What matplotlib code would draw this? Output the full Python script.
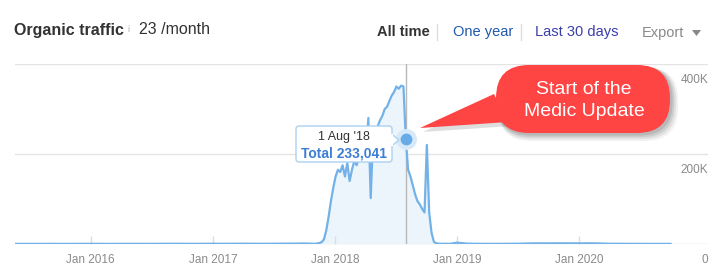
import matplotlib
matplotlib.use("Agg")
import matplotlib.pyplot as plt
import matplotlib.dates as mdates
from matplotlib.patches import FancyBboxPatch, Polygon
from matplotlib.transforms import blended_transform_factory
import pandas as pd
import numpy as np

plt.rcParams['font.family'] = ['Liberation Sans', 'DejaVu Sans']

# ---------------- data (values in thousands of visits) ----------------
pre_start = "2015-05-01"
pre_values = [0.2, 0.3, 0.3, 0.2, 0.4, 0.3, 0.3, 0.4, 0.5, 0.4, 0.3, 0.4,
              0.5, 0.4, 0.4, 0.5, 0.6, 0.5, 0.4, 0.5, 0.6, 0.5, 0.6, 0.7,
              0.6, 0.5, 0.6, 0.8, 0.9, 1.2]
peak_start = "2017-11-01"
peak_values = [0.5, 1, 2, 4, 10, 30, 60, 95, 125, 150, 165, 160, 175, 150,
               180, 140, 165, 185, 175, 195, 190, 200, 205, 280, 102, 235,
               245, 262, 275, 285, 300, 305, 318, 330, 338, 350, 345, 352,
               350, 233.041, 165, 150, 130, 110, 95, 88, 78, 70, 220, 70,
               25, 5, 1.5, 0.8, 0.6, 0.5, 0.5, 0.4, 0.4]
post_start = "2019-01-01"
post_values = [3.0, 0.8, 0.5, 0.4, 0.4, 0.5, 0.6, 1.2, 1.5, 1.4, 1.6, 1.5,
               1.4, 1.6, 1.2, 0.6, 0.5, 0.4, 0.4, 0.3, 0.3, 0.3]

marker_date = "2018-08-01"
marker_value = 233.041
tooltip_date = "1 Aug '18"
tooltip_total = "Total 233,041"

x_ticks = ["2016-01-01", "2017-01-01", "2018-01-01", "2019-01-01", "2020-01-01"]
x_tick_labels = ["Jan 2016", "Jan 2017", "Jan 2018", "Jan 2019", "Jan 2020"]
y_ticks = [0, 200, 400]
y_tick_labels = ["0", "200K", "400K"]

dates = list(pd.date_range(pre_start, periods=len(pre_values), freq="MS")) + \
        list(pd.date_range(peak_start, periods=len(peak_values), freq="W-WED")) + \
        list(pd.date_range(post_start, periods=len(post_values), freq="MS"))
values = pre_values + peak_values + post_values

# ---------------- figure ----------------
W, H = 727, 276
fig = plt.figure(figsize=(W / 100, H / 100), dpi=100)
ax = fig.add_axes([15 / W, (H - 244) / H, (708 - 15) / W, (244 - 64) / H])

line_c = "#72b2e8"
ax.fill_between(dates, values, 0, color="#edf5fc", lw=0, zorder=1)
ax.plot(dates, values, color=line_c, lw=1.6, zorder=3, solid_joinstyle="round")

ax.set_ylim(0, 400)
ax.set_xlim(pd.Timestamp("2015-05-20"), pd.Timestamp("2021-01-21"))

for v in y_ticks:
    ax.axhline(v, color="#e4e4e4" if v else "#d8d8d8", lw=1, zorder=0)

ax.axvline(pd.Timestamp(marker_date), color="#b8b8b8", lw=1, zorder=2)

ax.plot([pd.Timestamp(marker_date)], [marker_value], "o", ms=15, color="#d6e9f9",
        mec="none", zorder=4)
ax.plot([pd.Timestamp(marker_date)], [marker_value], "o", ms=8.5, color="#66abe6",
        mec="none", zorder=5)

for s in ax.spines.values():
    s.set_visible(False)
ax.set_yticks([])
ax.set_xticks([pd.Timestamp(d) for d in x_ticks])
ax.set_xticklabels(x_tick_labels)
ax.tick_params(axis="x", direction="in", length=6, color="#dddddd", width=1,
               labelsize=8.5, labelcolor="#8a8a8a", pad=7)

tr = blended_transform_factory(ax.transAxes, ax.transData)
for v, lab in zip(y_ticks, y_tick_labels):
    ax.annotate(lab, xy=(1.0, v), xycoords=tr, xytext=(0, -7),
                textcoords="offset points", ha="right", va="top",
                fontsize=8.5, color="#8a8a8a")

# ---------------- overlay in pixel coordinates ----------------
ov = fig.add_axes([0, 0, 1, 1], zorder=10)
ov.set_xlim(0, W)
ov.set_ylim(H, 0)
ov.axis("off")
ov.patch.set_alpha(0)

# header
ov.text(14, 30, "Organic traffic", fontsize=11.5, fontweight="bold",
        color="#333333", va="center", ha="left")
ov.text(127, 30, "i", fontsize=6.5, color="#b0b0b0", va="center", ha="left")
ov.text(139, 30, "23 /month", fontsize=11.5, color="#333333", va="center", ha="left")

ov.text(377, 32, "All time", fontsize=10.5, fontweight="bold", color="#333333",
        va="center", ha="left")
ov.plot([437, 437], [24, 40], color="#dddddd", lw=1)
ov.text(453, 32, "One year", fontsize=10.5, color="#2158b0", va="center", ha="left")
ov.plot([521, 521], [24, 40], color="#dddddd", lw=1)
ov.text(535, 32, "Last 30 days", fontsize=10.5, color="#3b3fa8", va="center", ha="left")
ov.text(642, 33, "Export", fontsize=10.5, color="#888888", va="center", ha="left")
ov.add_patch(Polygon([(692, 30), (701, 30), (696.5, 36)], closed=True,
                     color="#888888", lw=0))

# tooltip
ov.add_patch(FancyBboxPatch((296, 126), 96, 36, boxstyle="round,pad=0,rounding_size=3",
                            facecolor="white", edgecolor="#a9d1f2", lw=1, zorder=6))
ov.add_patch(Polygon([(391.5, 134), (399, 140), (391.5, 146)], closed=False,
                     facecolor="white", edgecolor="#a9d1f2", lw=1, zorder=6))
ov.plot([391.5, 391.5], [134.8, 145.2], color="white", lw=1.6, zorder=7)
ov.text(344, 137, tooltip_date, fontsize=9, color="#333333", ha="center",
        va="center", zorder=8)
ov.text(344, 153, tooltip_total, fontsize=10, fontweight="bold", color="#3d7fd4",
        ha="center", va="center", zorder=8)

# callout bubble with shadow
red = "#ff4444"
bx0, by0, bx1, by1, r = 496, 65, 670, 133, 33
tail = [(420, 128), (494, 94), (508, 122)]
for k, a in enumerate([0.06, 0.08, 0.10, 0.12]):
    off = 5 - k
    grow = 3 - k * 0.8
    ov.add_patch(FancyBboxPatch((bx0 + r + off - grow, by0 + r + off - grow),
                                bx1 - bx0 - 2 * r + 2 * grow, by1 - by0 - 2 * r + 2 * grow,
                                boxstyle=f"round,pad={r},rounding_size={r}",
                                facecolor="#222222", edgecolor="none", alpha=a, zorder=11))
ov.add_patch(Polygon([(x + 3, y + 4) for x, y in tail], closed=True,
                     facecolor="#222222", edgecolor="none", alpha=0.15, zorder=11))
ov.add_patch(FancyBboxPatch((bx0 + r, by0 + r), bx1 - bx0 - 2 * r, by1 - by0 - 2 * r,
                            boxstyle=f"round,pad={r},rounding_size={r}",
                            facecolor=red, edgecolor="none", zorder=12))
ov.add_patch(Polygon(tail, closed=True, facecolor=red, edgecolor="none", zorder=12))
ov.text(584, 89, "Start of the", fontsize=14, color="white", ha="center",
        va="center", zorder=13)
ov.text(584, 111, "Medic Update", fontsize=14, color="white", ha="center",
        va="center", zorder=13)

fig.savefig("out.png", dpi=100, facecolor="white")
